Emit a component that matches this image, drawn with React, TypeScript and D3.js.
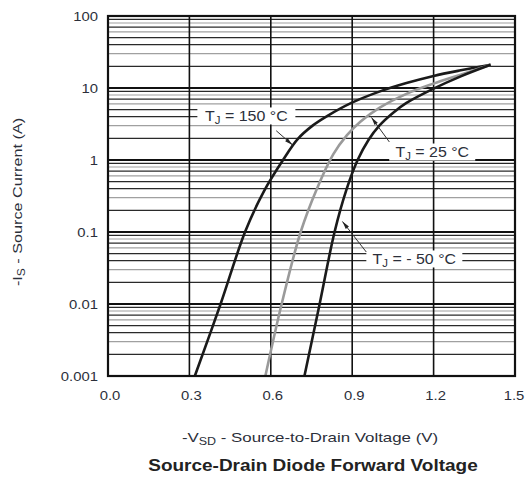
import React from "react";
import * as d3 from "d3";

// ---- data ----
const xTicks = [0, 0.3, 0.6, 0.9, 1.2, 1.5];
const xTickLabels = ["0.0", "0.3", "0.6", "0.9", "1.2", "1.5"];
const yTicks = [0.001, 0.01, 0.1, 1, 10, 100];
const yTickLabels = ["0.001", "0.01", "0.1", "1", "10", "100"];

// TJ = 150 °C
const t150V = [0.32, 0.415, 0.505, 0.575, 0.645, 0.699, 0.754, 0.809, 0.897, 1.0, 1.1, 1.2, 1.3, 1.41];
const t150I = [0.001, 0.01, 0.1, 0.37, 1.0, 1.95, 3.0, 4.1, 6.2, 8.9, 11.7, 14.7, 17.6, 21];

// TJ = 25 °C
const t25V = [0.58, 0.64, 0.71, 0.77, 0.83, 0.88, 0.93, 1.0, 1.1, 1.2, 1.3, 1.41];
const t25I = [0.001, 0.01, 0.1, 0.4, 1.2, 2.2, 3.4, 5.3, 8.3, 11.5, 15.3, 21];

// TJ = -50 °C
const tm50V = [0.724, 0.78, 0.835, 0.88, 0.92, 0.96, 1.0, 1.05, 1.1, 1.2, 1.3, 1.41];
const tm50I = [0.001, 0.01, 0.1, 0.4, 1.0, 1.9, 3.0, 4.5, 6.2, 9.8, 14.5, 21];

const seriesNames = ["150", "25", "-50"];
const labelTemps = ["150 °C", "25 °C", "- 50 °C"];
const labelV = [0.51, 1.195, 1.129];
const labelI = [4.09, 1.29, 0.0422];
const tipV = [0.68, 0.971, 0.864];
const tipI = [1.62, 3.9, 0.14];
const tailV = [0.62, 1.037, 0.952];
const tailI = [2.55, 1.78, 0.0527];

const W = 526, H = 479;
const L = 108, R = 515, T = 16, B = 376;

export default function App() {
  const x = d3.scaleLinear().domain([0, 1.5]).range([L, R]);
  const y = d3.scaleLog().domain([0.001, 100]).range([B, T]);

  const line = d3
    .line<[number, number]>()
    .x((d) => x(d[0]))
    .y((d) => y(d[1]))
    .curve(d3.curveCatmullRom.alpha(0.5));

  const series = [
    { v: t150V, i: t150I, color: "#1a1a1a" },
    { v: t25V, i: t25I, color: "#9a9a9a" },
    { v: tm50V, i: tm50I, color: "#1a1a1a" },
  ];

  // minor gridlines
  const minor: { val: number; dark: boolean }[] = [];
  const darkPattern: Record<number, boolean> = { 2: true, 3: false, 4: true, 5: true, 6: false, 7: true, 8: false, 9: true };
  for (let e = -3; e < 2; e++) {
    for (let k = 2; k <= 9; k++) {
      minor.push({ val: k * Math.pow(10, e), dark: darkPattern[k] });
    }
  }

  const font = "'Liberation Sans', Arial, Helvetica, sans-serif";
  const textColor = "#2b2f3a";
  const boxW = [98, 86, 96];
  const boxH = 17;

  return (
    <svg width={W} height={H} style={{ position: "absolute", left: 0, top: 0, background: "#fff" }} fontFamily={font}>
      <rect x={0} y={0} width={W} height={H} fill="#fff" />
      {/* horizontal minor grid */}
      {minor.map((m, idx) => (
        <line key={"m" + idx} x1={L} x2={R} y1={y(m.val)} y2={y(m.val)} stroke={m.dark ? "#2a2a2a" : "#a0a0a0"} strokeWidth={1.2} />
      ))}
      {/* decade lines */}
      {yTicks.map((t) => (
        <line key={"d" + t} x1={L} x2={R} y1={y(t)} y2={y(t)} stroke="#111" strokeWidth={2} />
      ))}
      {/* vertical grid */}
      {xTicks.map((t) => (
        <line key={"v" + t} x1={x(t)} x2={x(t)} y1={T} y2={B} stroke="#111" strokeWidth={1.6} />
      ))}

      {/* curves */}
      {series.map((s, si) => (
        <path
          key={seriesNames[si]}
          d={line(s.v.map((v, k) => [v, s.i[k]] as [number, number])) || ""}
          fill="none"
          stroke={s.color}
          strokeWidth={2.6}
          strokeLinejoin="round"
        />
      ))}

      {/* annotations */}
      {labelTemps.map((lt, k) => {
        const cx = x(labelV[k]);
        const cy = y(labelI[k]);
        const tx = x(tailV[k]), ty = y(tailI[k]);
        const px = x(tipV[k]), py = y(tipI[k]);
        const ang = Math.atan2(py - ty, px - tx);
        const ah = 8, aw = 2;
        const bx = px - ah * Math.cos(ang), by = py - ah * Math.sin(ang);
        const nx = -Math.sin(ang) * aw, ny = Math.cos(ang) * aw;
        return (
          <g key={"a" + k}>
            <rect x={cx - boxW[k] / 2} y={cy - boxH / 2} width={boxW[k]} height={boxH} fill="#fff" />
            <line x1={tx} y1={ty} x2={px} y2={py} stroke="#333" strokeWidth={1} />
            <polygon points={`${px},${py} ${bx + nx},${by + ny} ${bx - nx},${by - ny}`} fill="#222" />
            <text transform={`translate(${cx},${cy + 5}) scale(1.14,1)`} textAnchor="middle" fontSize={14} fill={textColor}>
              T<tspan fontSize={10} dy={3}>J</tspan>
              <tspan dy={-3}>{" = " + lt}</tspan>
            </text>
          </g>
        );
      })}

      {/* border */}
      <rect x={L} y={T} width={R - L} height={B - T} fill="none" stroke="#111" strokeWidth={2.2} />

      {/* y tick labels */}
      {yTicks.map((t, k) => (
        <text key={"yl" + t} transform={`translate(${L - 10},${y(t) + 5}) scale(1.1,1)`} textAnchor="end" fontSize={13.5} fill={textColor}>
          {yTickLabels[k]}
        </text>
      ))}
      {/* x tick labels */}
      {xTicks.map((t, k) => (
        <text key={"xl" + t} transform={`translate(${Math.min(x(t) + 2, W - 12)},400) scale(1.1,1)`} textAnchor="middle" fontSize={13.5} fill={textColor}>
          {xTickLabels[k]}
        </text>
      ))}

      {/* axis titles */}
      <text transform="translate(310,442) scale(1.25,1)" textAnchor="middle" fontSize={13.5} fill={textColor}>
        -V<tspan fontSize={10} dy={3}>SD</tspan>
        <tspan dy={-3}> - Source-to-Drain Voltage (V)</tspan>
      </text>
      <text transform="translate(313,471) scale(1.15,1)" textAnchor="middle" fontSize={16.5} fontWeight="bold" fill="#222">
        Source-Drain Diode Forward Voltage
      </text>
      <text transform={`translate(22, 202) rotate(-90) scale(1.2,1)`} textAnchor="middle" fontSize={13.5} fill={textColor}>
        -I<tspan fontSize={10} dy={3}>S</tspan>
        <tspan dy={-3}> - Source Current (A)</tspan>
      </text>
    </svg>
  );
}
